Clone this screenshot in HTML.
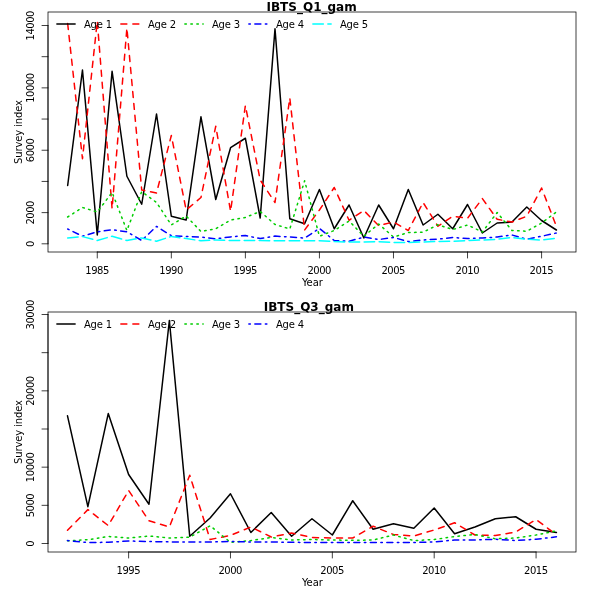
<!DOCTYPE html>
<html><head><meta charset="utf-8"><title>IBTS survey indices</title>
<style>
html,body{margin:0;padding:0;background:#fff;}
svg{display:block;}
text{font-family:"DejaVu Sans","Liberation Sans",sans-serif;fill:#000;}
.t{font-size:10px;}
.m{font-size:12px;font-weight:bold;}
.ax{stroke:#000;stroke-width:0.75;fill:none;stroke-linecap:round;}
.d{fill:none;stroke-width:1.5;stroke-linecap:round;stroke-linejoin:round;}
</style></head><body>
<svg width="600" height="600" viewBox="0 0 600 600">
<defs><filter id="gs" filterUnits="userSpaceOnUse" x="0" y="0" width="600" height="600" color-interpolation-filters="sRGB"><feColorMatrix type="saturate" values="0"/></filter></defs>
<rect width="600" height="600" fill="#fff"/>
<g class="d">
<polyline points="67.66,185.50 82.47,70.00 97.28,235.00 112.09,71.30 126.90,176.25 141.71,204.25 156.52,114.00 171.33,216.25 186.14,220.00 200.95,116.80 215.76,199.50 230.57,147.70 245.38,138.25 260.19,218.00 275.00,28.75 289.81,218.75 304.62,223.75 319.43,189.50 334.24,228.75 349.05,205.00 363.86,238.00 378.67,205.00 393.48,228.75 408.29,189.50 423.10,225.00 437.91,214.25 452.72,228.75 467.53,204.50 482.34,233.00 497.15,223.00 511.96,222.00 526.77,207.00 541.58,220.50 556.39,230.00" stroke="#000000"/>
<polyline points="67.66,23.50 82.47,158.75 97.28,21.00 112.09,208.75 126.90,28.00 141.71,190.00 156.52,193.00 171.33,135.50 186.14,210.00 200.95,197.50 215.76,126.20 230.57,211.25 245.38,105.60 260.19,180.00 275.00,202.50 289.81,98.00 304.62,230.00 319.43,210.00 334.24,187.50 349.05,220.30 363.86,210.50 378.67,225.60 393.48,222.00 408.29,230.50 423.10,202.50 437.91,226.25 452.72,216.25 467.53,218.25 482.34,198.60 497.15,219.30 511.96,222.00 526.77,216.25 541.58,188.00 556.39,226.25" stroke="#FF0000" stroke-dasharray="6 6"/>
<polyline points="67.66,217.00 82.47,207.50 97.28,212.00 112.09,192.40 126.90,230.50 141.71,191.60 156.52,202.50 171.33,225.00 186.14,216.00 200.95,231.50 215.76,228.75 230.57,220.00 245.38,217.50 260.19,211.50 275.00,224.50 289.81,229.00 304.62,180.75 319.43,236.25 334.24,230.50 349.05,221.00 363.86,236.25 378.67,224.00 393.48,237.00 408.29,232.50 423.10,232.25 437.91,224.75 452.72,229.50 467.53,225.00 482.34,232.00 497.15,212.50 511.96,230.50 526.77,231.25 541.58,223.00 556.39,212.00" stroke="#00CD00" stroke-dasharray="1.5 4.5"/>
<polyline points="67.66,229.00 82.47,236.20 97.28,231.80 112.09,229.70 126.90,231.80 141.71,240.50 156.52,226.40 171.33,235.70 186.14,236.40 200.95,237.00 215.76,238.75 230.57,236.90 245.38,235.50 260.19,238.60 275.00,236.10 289.81,237.00 304.62,238.10 319.43,228.40 334.24,240.50 349.05,241.25 363.86,237.10 378.67,239.50 393.48,237.50 408.29,241.50 423.10,240.00 437.91,239.10 452.72,237.50 467.53,238.60 482.34,238.00 497.15,237.00 511.96,235.00 526.77,239.25 541.58,236.25 556.39,233.00" stroke="#0000FF" stroke-dasharray="1.5 4.5 6 4.5"/>
<polyline points="67.66,237.90 82.47,236.60 97.28,240.50 112.09,236.20 126.90,240.50 141.71,237.90 156.52,241.20 171.33,236.40 186.14,238.60 200.95,240.80 215.76,240.00 230.57,240.50 245.38,240.50 260.19,240.50 275.00,240.75 289.81,240.75 304.62,240.75 319.43,240.75 334.24,241.60 349.05,242.00 363.86,242.00 378.67,241.75 393.48,242.40 408.29,242.40 423.10,242.00 437.91,241.50 452.72,241.25 467.53,240.50 482.34,240.00 497.15,239.25 511.96,237.50 526.77,239.25 541.58,240.00 556.39,238.25" stroke="#00FFFF" stroke-dasharray="10.5 4.5"/>
</g>
<rect class="ax" x="48" y="12" width="528" height="240"/>
<path class="ax" d="M97.28 252 H541.58 M97.28 252 v6 M171.33 252 v6 M245.38 252 v6 M319.43 252 v6 M393.48 252 v6 M467.53 252 v6 M541.58 252 v6"/>
<path class="ax" d="M48 243.80 V25.50 M48 243.80 h-6 M48 212.61 h-6 M48 181.43 h-6 M48 150.24 h-6 M48 119.06 h-6 M48 87.87 h-6 M48 56.68 h-6 M48 25.50 h-6"/>
<g class="d">
<line x1="56.85" y1="24" x2="75.15" y2="24" stroke="#000000"/>
<line x1="120.85" y1="24" x2="139.15" y2="24" stroke="#FF0000" stroke-dasharray="6 6"/>
<line x1="184.85" y1="24" x2="203.15" y2="24" stroke="#00CD00" stroke-dasharray="1.5 4.5"/>
<line x1="248.85" y1="24" x2="267.15" y2="24" stroke="#0000FF" stroke-dasharray="1.5 4.5 6 4.5"/>
<line x1="312.85" y1="24" x2="331.15" y2="24" stroke="#00FFFF" stroke-dasharray="10.5 4.5"/>
</g>
<g class="d">
<polyline points="67.50,415.80 87.87,506.70 108.25,413.60 128.62,474.50 148.99,504.25 169.36,320.50 189.73,536.25 210.11,518.00 230.48,493.75 250.85,532.50 271.23,512.50 291.60,536.25 311.97,518.75 332.34,535.00 352.71,500.75 373.09,529.25 393.46,523.75 413.83,528.25 434.20,508.00 454.58,533.75 474.95,527.00 495.32,518.75 515.69,516.75 536.07,529.25 556.44,532.50" stroke="#000000"/>
<polyline points="67.50,530.25 87.87,509.60 108.25,525.60 128.62,490.50 148.99,520.75 169.36,527.00 189.73,475.25 210.11,539.50 230.48,535.40 250.85,527.00 271.23,537.00 291.60,533.00 311.97,537.50 332.34,538.00 352.71,538.00 373.09,526.20 393.46,534.50 413.83,536.00 434.20,530.00 454.58,522.75 474.95,535.00 495.32,535.50 515.69,532.00 536.07,519.50 556.44,534.80" stroke="#FF0000" stroke-dasharray="6 6"/>
<polyline points="67.50,540.80 87.87,539.70 108.25,536.50 128.62,538.00 148.99,536.00 169.36,538.00 189.73,537.25 210.11,525.75 230.48,542.30 250.85,540.60 271.23,537.50 291.60,540.00 311.97,539.50 332.34,540.00 352.71,540.30 373.09,540.00 393.46,535.00 413.83,540.60 434.20,539.50 454.58,536.50 474.95,534.50 495.32,538.75 515.69,538.00 536.07,535.00 556.44,530.75" stroke="#00CD00" stroke-dasharray="1.5 4.5"/>
<polyline points="67.50,540.60 87.87,542.50 108.25,542.30 128.62,541.00 148.99,541.50 169.36,541.90 189.73,541.90 210.11,542.00 230.48,541.50 250.85,542.00 271.23,542.00 291.60,542.30 311.97,542.50 332.34,542.50 352.71,542.50 373.09,542.50 393.46,542.50 413.83,542.50 434.20,542.00 454.58,540.00 474.95,540.00 495.32,539.25 515.69,540.50 536.07,539.25 556.44,536.80" stroke="#0000FF" stroke-dasharray="1.5 4.5 6 4.5"/>
</g>
<rect class="ax" x="48" y="312" width="528" height="240"/>
<path class="ax" d="M128.62 552 H536.07 M128.62 552 v6 M230.48 552 v6 M332.34 552 v6 M434.20 552 v6 M536.07 552 v6"/>
<path class="ax" d="M48 543.50 V314.50 M48 543.50 h-6 M48 505.33 h-6 M48 467.17 h-6 M48 429.00 h-6 M48 390.83 h-6 M48 352.66 h-6 M48 314.50 h-6"/>
<g class="d">
<line x1="56.85" y1="324" x2="75.15" y2="324" stroke="#000000"/>
<line x1="120.85" y1="324" x2="139.15" y2="324" stroke="#FF0000" stroke-dasharray="6 6"/>
<line x1="184.85" y1="324" x2="203.15" y2="324" stroke="#00CD00" stroke-dasharray="1.5 4.5"/>
<line x1="248.85" y1="324" x2="267.15" y2="324" stroke="#0000FF" stroke-dasharray="1.5 4.5 6 4.5"/>
</g>
<g filter="url(#gs)">
<text class="t" x="97.28" y="274.2" text-anchor="middle" textLength="24" lengthAdjust="spacing">1985</text>
<text class="t" x="171.33" y="274.2" text-anchor="middle" textLength="24" lengthAdjust="spacing">1990</text>
<text class="t" x="245.38" y="274.2" text-anchor="middle" textLength="24" lengthAdjust="spacing">1995</text>
<text class="t" x="319.43" y="274.2" text-anchor="middle" textLength="24" lengthAdjust="spacing">2000</text>
<text class="t" x="393.48" y="274.2" text-anchor="middle" textLength="24" lengthAdjust="spacing">2005</text>
<text class="t" x="467.53" y="274.2" text-anchor="middle" textLength="24" lengthAdjust="spacing">2010</text>
<text class="t" x="541.58" y="274.2" text-anchor="middle" textLength="24" lengthAdjust="spacing">2015</text>
<text class="t" transform="translate(34.2 243.80) rotate(-90)" text-anchor="middle" textLength="6" lengthAdjust="spacing">0</text>
<text class="t" transform="translate(34.2 212.61) rotate(-90)" text-anchor="middle" textLength="24" lengthAdjust="spacing">2000</text>
<text class="t" transform="translate(34.2 150.24) rotate(-90)" text-anchor="middle" textLength="24" lengthAdjust="spacing">6000</text>
<text class="t" transform="translate(34.2 87.87) rotate(-90)" text-anchor="middle" textLength="30" lengthAdjust="spacing">10000</text>
<text class="t" transform="translate(34.2 25.50) rotate(-90)" text-anchor="middle" textLength="30" lengthAdjust="spacing">14000</text>
<text class="t" x="312.4" y="286" text-anchor="middle" textLength="21" lengthAdjust="spacing">Year</text>
<text class="t" transform="translate(22 132) rotate(-90)" text-anchor="middle" textLength="64" lengthAdjust="spacing">Survey index</text>
<text class="m" x="311.6" y="10.5" text-anchor="middle">IBTS_Q1_gam</text>
<text class="t" x="84.00" y="27.6" textLength="28" lengthAdjust="spacing">Age 1</text>
<text class="t" x="148.00" y="27.6" textLength="28" lengthAdjust="spacing">Age 2</text>
<text class="t" x="212.00" y="27.6" textLength="28" lengthAdjust="spacing">Age 3</text>
<text class="t" x="276.00" y="27.6" textLength="28" lengthAdjust="spacing">Age 4</text>
<text class="t" x="340.00" y="27.6" textLength="28" lengthAdjust="spacing">Age 5</text>
<text class="t" x="128.62" y="574.2" text-anchor="middle" textLength="24" lengthAdjust="spacing">1995</text>
<text class="t" x="230.48" y="574.2" text-anchor="middle" textLength="24" lengthAdjust="spacing">2000</text>
<text class="t" x="332.34" y="574.2" text-anchor="middle" textLength="24" lengthAdjust="spacing">2005</text>
<text class="t" x="434.20" y="574.2" text-anchor="middle" textLength="24" lengthAdjust="spacing">2010</text>
<text class="t" x="536.07" y="574.2" text-anchor="middle" textLength="24" lengthAdjust="spacing">2015</text>
<text class="t" transform="translate(34.2 543.50) rotate(-90)" text-anchor="middle" textLength="6" lengthAdjust="spacing">0</text>
<text class="t" transform="translate(34.2 505.33) rotate(-90)" text-anchor="middle" textLength="24" lengthAdjust="spacing">5000</text>
<text class="t" transform="translate(34.2 467.17) rotate(-90)" text-anchor="middle" textLength="30" lengthAdjust="spacing">10000</text>
<text class="t" transform="translate(34.2 390.83) rotate(-90)" text-anchor="middle" textLength="30" lengthAdjust="spacing">20000</text>
<text class="t" transform="translate(34.2 314.50) rotate(-90)" text-anchor="middle" textLength="30" lengthAdjust="spacing">30000</text>
<text class="t" x="312.4" y="586" text-anchor="middle" textLength="21" lengthAdjust="spacing">Year</text>
<text class="t" transform="translate(22 432) rotate(-90)" text-anchor="middle" textLength="64" lengthAdjust="spacing">Survey index</text>
<text class="m" x="308.8" y="310.5" text-anchor="middle">IBTS_Q3_gam</text>
<text class="t" x="84.00" y="327.6" textLength="28" lengthAdjust="spacing">Age 1</text>
<text class="t" x="148.00" y="327.6" textLength="28" lengthAdjust="spacing">Age 2</text>
<text class="t" x="212.00" y="327.6" textLength="28" lengthAdjust="spacing">Age 3</text>
<text class="t" x="276.00" y="327.6" textLength="28" lengthAdjust="spacing">Age 4</text>
</g>
</svg></body></html>
